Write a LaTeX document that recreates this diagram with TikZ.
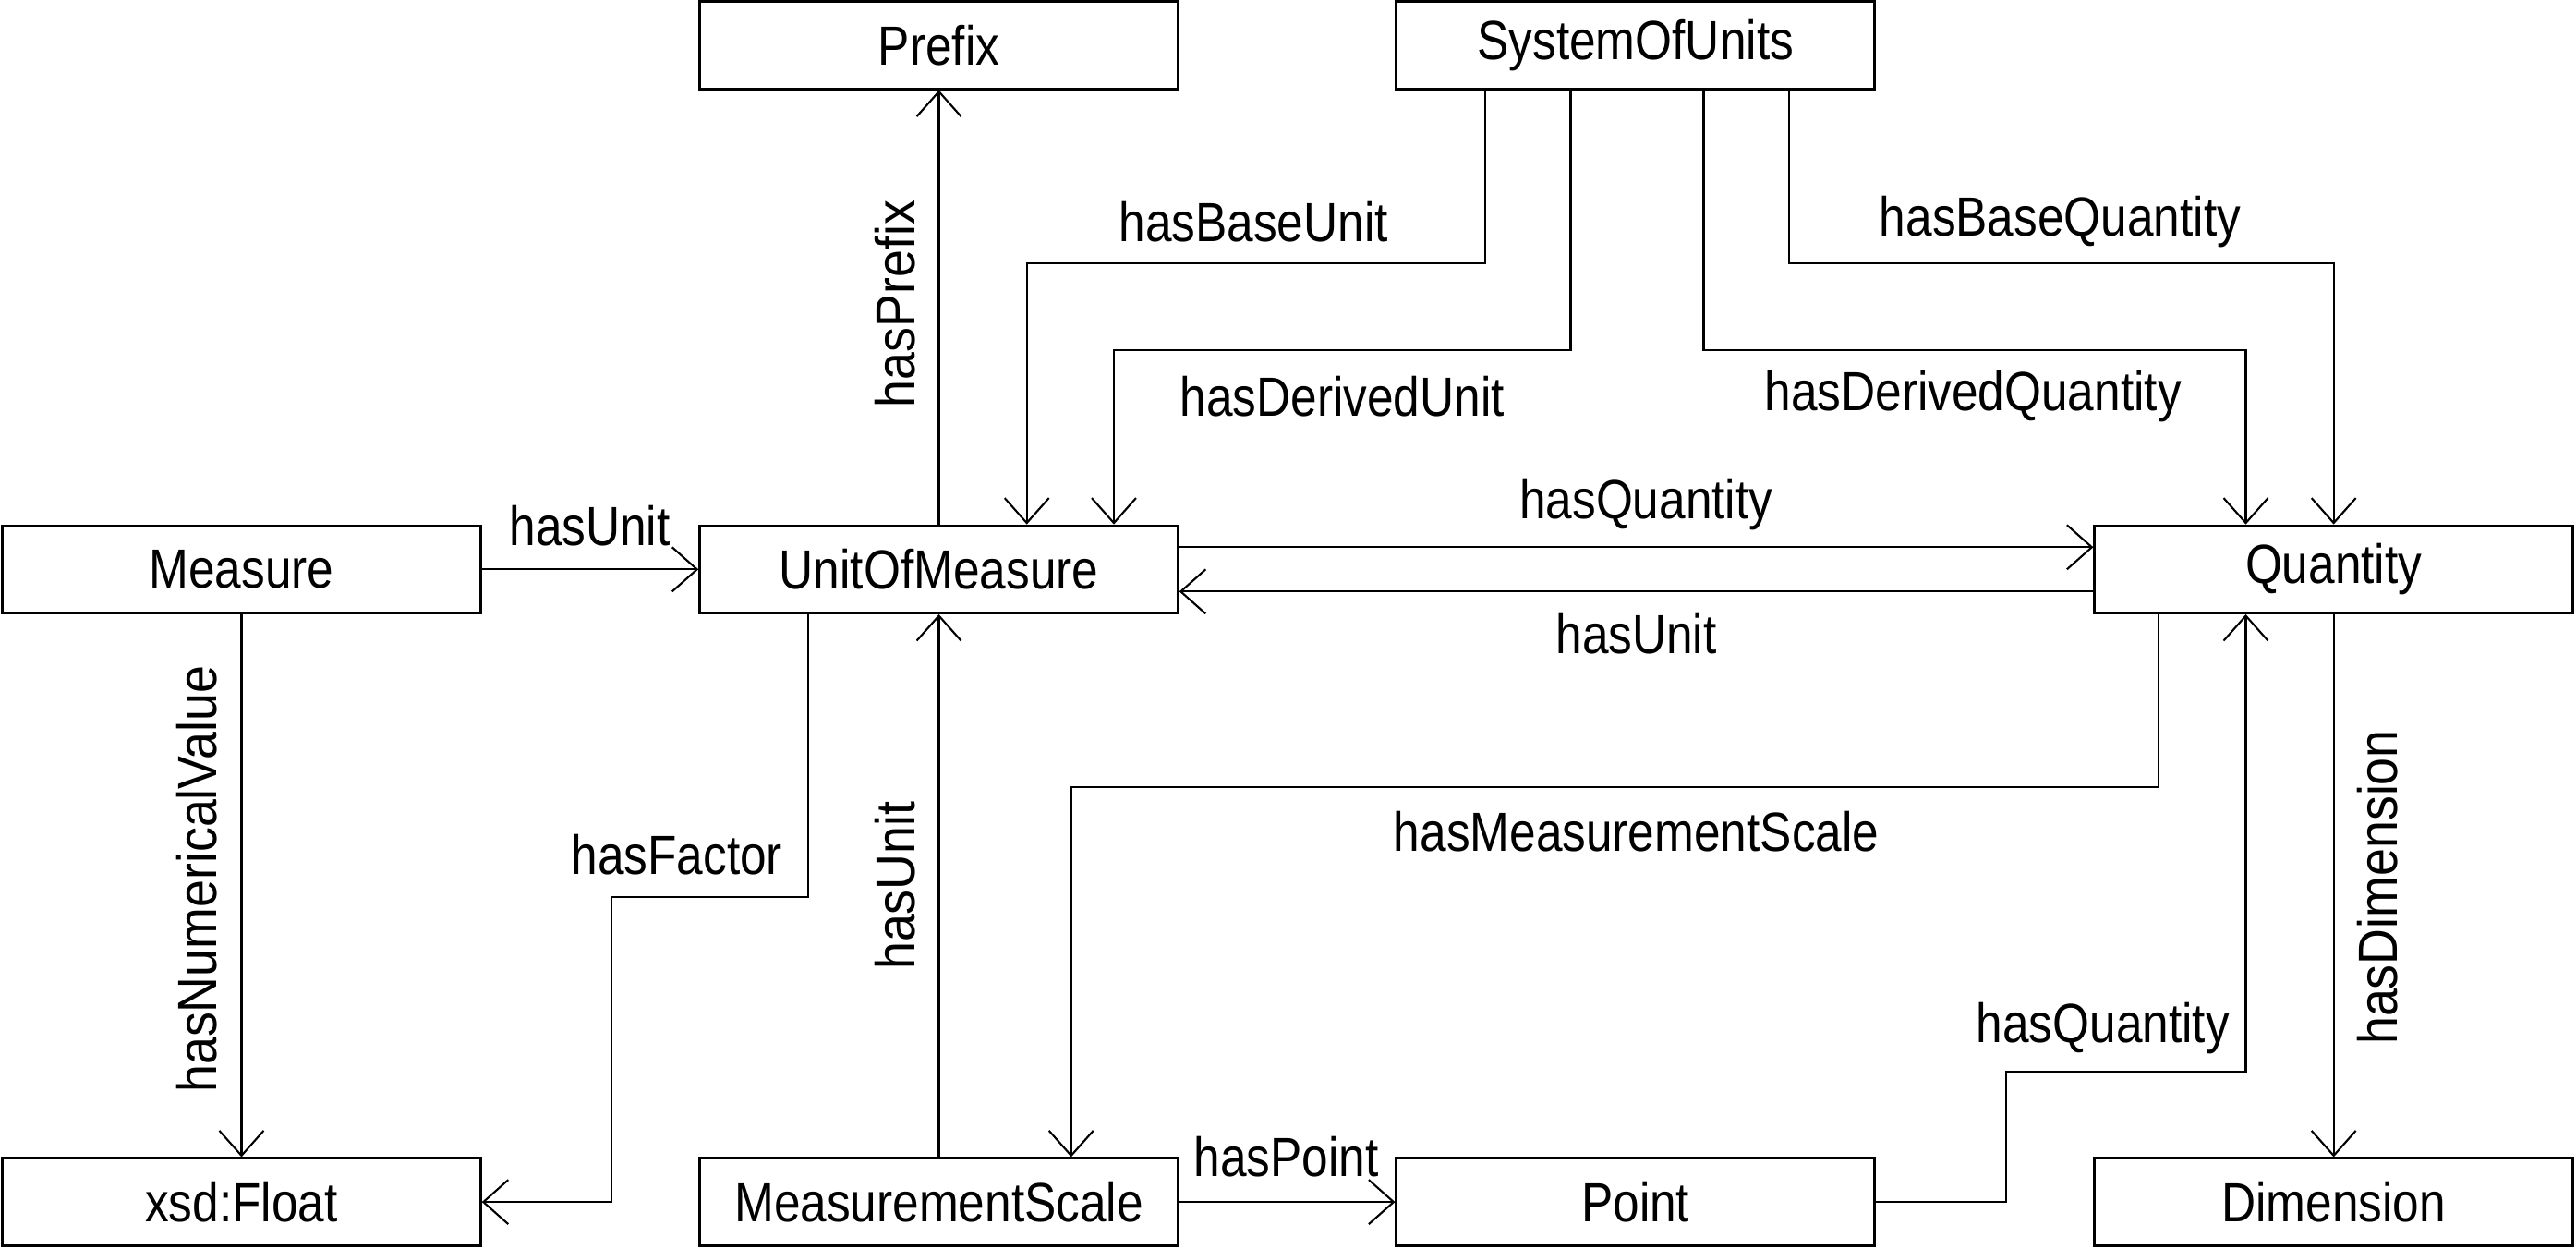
\documentclass[tikz,border=0pt]{standalone}
\usepackage{fontspec}
\setmainfont[FakeStretch=0.86]{Liberation Sans}
\newfontfamily\vertfont[FakeStretch=0.9]{Liberation Sans}
\usetikzlibrary{arrows.meta}

\tikzset{
  cls/.style={draw, line width=0.85pt, minimum width=5.176cm, minimum height=0.943cm,
    inner sep=0pt, font=\fontsize{17}{20}\selectfont},
  rel/.style={line width=0.6pt, -{Straight Barb[length=2.7mm,width=4.8mm]}},
  lbl/.style={font=\fontsize{17}{20}\selectfont, inner sep=0pt},
  vlbl/.style={font=\vertfont\fontsize{17}{20}\selectfont, inner sep=0pt, rotate=90},
}

\begin{document}
\begin{tikzpicture}[x=0.017787cm, y=-0.017787cm]
      \useasboundingbox (0,0) rectangle (1568,760);

      % classes
      \node[cls] (prefix)  at (571.5, 27.5) {Prefix};
      \node[cls] (sou)     at (995.5, 27.5) {SystemOfUnits};
      \node[cls] (measure) at (147, 346.5)  {Measure};
      \node[cls] (uom)     at (571.5, 346.5) {UnitOfMeasure};
      \node[cls] (qty)     at (1420.5, 346.5) {Quantity};
      \node[cls] (xsd)     at (147, 731.5)  {xsd:Float};
      \node[cls] (ms)      at (571.5, 731.5) {MeasurementScale};
      \node[cls] (point)   at (995.5, 731.5) {Point};
      \node[cls] (dim)     at (1420.5, 731.5) {Dimension};

      % straight relations
      \draw[rel] (measure) -- (uom) node[lbl] at (359, 320) {hasUnit};
      \draw[rel] (uom) -- (prefix) node[vlbl] at (545, 185) {hasPrefix};
      \draw[rel] (measure) -- (xsd) node[vlbl] at (120, 535) {hasNumericalValue};
      \draw[rel] (ms) -- (uom) node[vlbl] at (545, 539) {hasUnit};
      \draw[rel] (qty) -- (dim) node[vlbl] at (1447, 540) {hasDimension};
      \draw[rel] (ms) -- (point) node[lbl] at (783, 704) {hasPoint};

      \draw[rel] (uom.east |- 0,333) -- (qty.west |- 0,333) node[lbl] at (1002, 307) {hasQuantity};
      \draw[rel] (qty.west |- 0,360) -- (uom.east |- 0,360) node[lbl] at (996, 386) {hasUnit};

      % relations from the system of units
      \draw[rel] (904,0 |- sou.south) -- (904,160) -- (625,160) -- (625,0 |- uom.north);
      \node[lbl] (lbaseunit) at (763, 135) {hasBaseUnit};
      \draw[rel] (956,0 |- sou.south) -- (956,213) -- (678,213) -- (678,0 |- uom.north);
      \node[lbl] (lderivedunit) at (817, 241) {hasDerivedUnit};
      \draw[rel] (1037,0 |- sou.south) -- (1037,213) -- (1367,213) -- (1367,0 |- qty.north);
      \node[lbl] (lderivedqty) at (1201, 241) {hasDerivedQuantity};
      \draw[rel] (1089,0 |- sou.south) -- (1089,160) -- (1420.5,160) -- (qty.north);
      \node[lbl] (lbaseqty) at (1254, 135) {hasBaseQuantity};

      % bent relations below
      \draw[rel] (492,0 |- uom.south) -- (492,546) -- (372,546) -- (372,731.5) -- (xsd.east);
      \node[lbl] (lfactor) at (412, 520) {hasFactor};
      \draw[rel] (1314,0 |- qty.south) -- (1314,479) -- (652,479) -- (652,0 |- ms.north);
      \node[lbl] (lscale) at (996, 506) {hasMeasurementScale};
      \draw[rel] (point.east) -- (1221,731.5) -- (1221,652) -- (1367,652) -- (1367,0 |- qty.south);
      \node[lbl] (lpointqty) at (1280, 626) {hasQuantity};

\end{tikzpicture}
\end{document}
